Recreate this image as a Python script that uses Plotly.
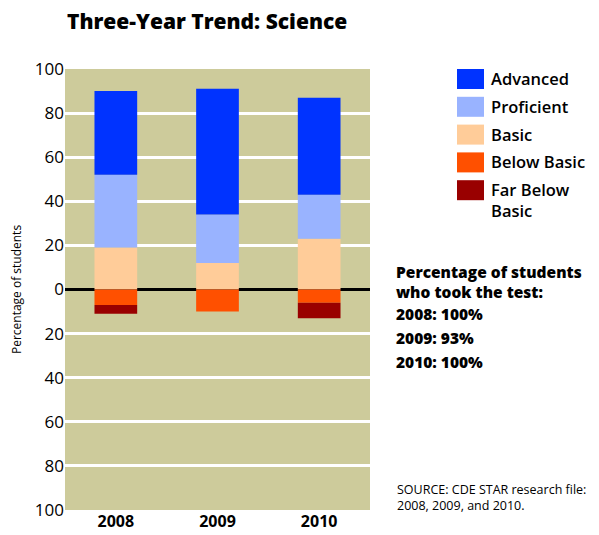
import plotly.graph_objects as go

years = ["2008", "2009", "2010"]
basic = [19, 12, 23]
proficient = [33, 22, 20]
advanced = [38, 57, 44]
below_basic = [7, 10, 6]
far_below_basic = [4, 0, 7]

legend_names = ["Advanced", "Proficient", "Basic", "Below Basic", "Far Below<br>Basic"]
colors = {
    "Advanced": "#0033FF",
    "Proficient": "#99B3FF",
    "Basic": "#FFCC99",
    "Below Basic": "#FF5000",
    "Far Below Basic": "#990000",
}
tick_vals = [-100, -80, -60, -40, -20, 0, 20, 40, 60, 80, 100]
tick_text = [str(abs(v)) for v in tick_vals]
participation_heading = ["Percentage of students", "who took the test:"]
participation = [("2008", "100%"), ("2009", "93%"), ("2010", "100%")]

OFF = 8  # page body margin
W, H = 599 - OFF, 535 - OFF
# plot area in page pixels
L, R, T, B = 65, 370, 69, 510
FONT = "Open Sans"


def px(x):
    return (x - L) / (R - L)


def py(y):
    return (B - y) / (B - T)


fig = go.Figure()
series = [
    ("Basic", basic, 1),
    ("Proficient", proficient, 1),
    ("Advanced", advanced, 1),
    ("Below Basic", below_basic, -1),
    ("Far Below Basic", far_below_basic, -1),
]
for name, vals, sign in series:
    fig.add_trace(go.Bar(
        x=years, y=[sign * v for v in vals], name=name,
        marker=dict(color=colors[name], line=dict(width=0)),
        showlegend=False,
    ))

fig.update_layout(
    width=W, height=H,
    margin=dict(l=L - OFF, r=599 - R, t=T - OFF, b=535 - B, autoexpand=False),
    paper_bgcolor="white",
    plot_bgcolor="#CDCB9B",
    barmode="relative",
    bargap=0.58,
    font=dict(family=FONT, color="black"),
    xaxis=dict(
        showgrid=False, showline=False, ticks="",
        tickfont=dict(size=16, family=FONT, weight=700),
    ),
    yaxis=dict(
        range=[-100, 100], tickvals=tick_vals, ticktext=tick_text,
        tickfont=dict(size=17, family=FONT),
        showgrid=True, gridcolor="white", gridwidth=3,
        zeroline=True, zerolinecolor="black", zerolinewidth=3,
        showline=False, ticks="",
        automargin=False,
        title=dict(text="Percentage of students", font=dict(size=12, family=FONT), standoff=10),
    ),
)

annotations = []
shapes = []

# Title
annotations.append(dict(
    text="Three-Year Trend: Science", xref="paper", yref="paper",
    x=px(66), y=py(21), xanchor="left", yanchor="middle", showarrow=False,
    borderpad=0, font=dict(size=21, family=FONT, weight=800),
))

# Legend
legend_keys = ["Advanced", "Proficient", "Basic", "Below Basic", "Far Below Basic"]
for i, (key, label) in enumerate(zip(legend_keys, legend_names)):
    top = 69 + i * 27.8
    shapes.append(dict(
        type="rect", xref="paper", yref="paper",
        x0=px(457), x1=px(484), y0=py(top + 20), y1=py(top),
        fillcolor=colors[key], line=dict(width=0),
    ))
    annotations.append(dict(
        text=label, xref="paper", yref="paper",
        x=px(490), y=py(top - 3), xanchor="left", yanchor="top", showarrow=False,
        align="left", borderpad=0, font=dict(size=16.5, family=FONT, weight=600),
    ))

# Participation text
annotations.append(dict(
    text="<br>".join(participation_heading), xref="paper", yref="paper",
    x=px(395), y=py(260), xanchor="left", yanchor="top", showarrow=False,
    align="left", borderpad=0, font=dict(size=15.5, family=FONT, weight=800),
))
for i, (yr, pct) in enumerate(participation):
    annotations.append(dict(
        text=f"{yr}: {pct}", xref="paper", yref="paper",
        x=px(395), y=py(314 + i * 24), xanchor="left", yanchor="middle", showarrow=False,
        borderpad=0, font=dict(size=15.5, family=FONT, weight=800),
    ))

# Source
annotations.append(dict(
    text="SOURCE: CDE STAR research file:<br>2008, 2009, and 2010.", xref="paper", yref="paper",
    x=px(395), y=py(479), xanchor="left", yanchor="top", showarrow=False,
    align="left", font=dict(size=12.5, family=FONT),
))

fig.update_layout(annotations=annotations, shapes=shapes)
fig.write_html("out.html")
